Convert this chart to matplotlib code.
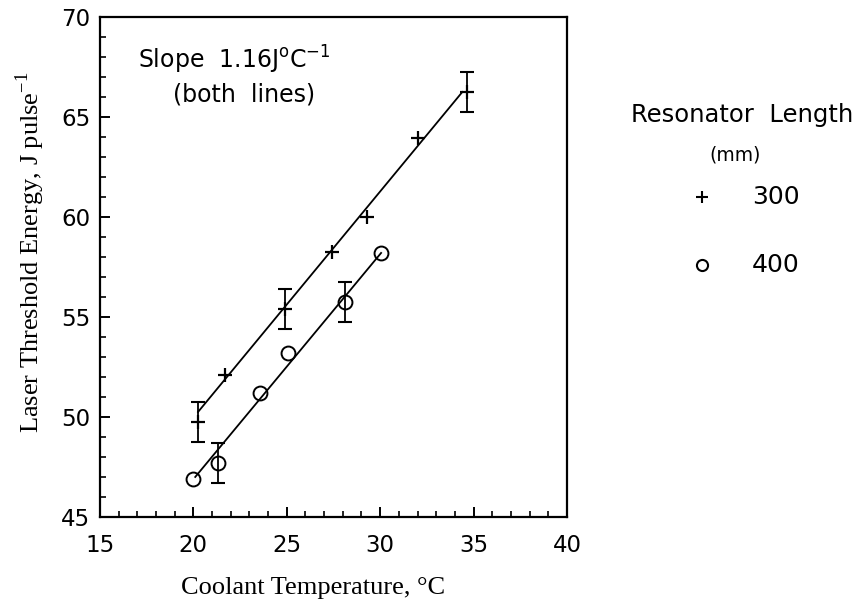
import numpy as np
import matplotlib.pyplot as plt
from matplotlib.lines import Line2D

# resonator length 300 mm (plus markers)
temp_300 = [20.25, 21.7, 24.9, 27.4, 29.3, 32.0, 34.65]
energy_300 = [49.75, 52.1, 55.4, 58.25, 60.0, 63.95, 66.25]
err_300 = [1.0, 0, 1.0, 0, 0, 0, 1.0]
fit_300_x = [20.25, 34.4]
fit_300_y = [50.25, 66.25]

# resonator length 400 mm (circle markers)
temp_400 = [19.98, 21.3, 23.56, 25.06, 28.1, 30.05]
energy_400 = [46.9, 47.7, 51.2, 53.2, 55.75, 58.2]
err_400 = [0, 1.0, 0, 0, 1.0, 0]
fit_400_x = [20.1, 30.05]
fit_400_y = [47.0, 58.2]

tick_font = 'DejaVu Sans'
label_font = 'Liberation Serif'

fig = plt.figure(figsize=(8.64, 6.05), dpi=100)
ax = fig.add_axes([0.1157, 0.1455, 0.5405, 0.8265])

ax.plot(fit_300_x, fit_300_y, color='black', lw=1.3)
ax.plot(fit_400_x, fit_400_y, color='black', lw=1.3)
ax.plot(temp_300, energy_300, linestyle='none', marker='+', ms=10, mew=1.6, color='black')
ax.plot(temp_400, energy_400, linestyle='none', marker='o', ms=10, mew=1.4,
        markerfacecolor='none', markeredgecolor='black')

# error bars only where given
for tx, ey, er in [(temp_300, energy_300, err_300), (temp_400, energy_400, err_400)]:
    tx, ey, er = np.array(tx), np.array(ey), np.array(er)
    m = er > 0
    ax.errorbar(tx[m], ey[m], yerr=er[m], fmt='none', ecolor='black',
                elinewidth=1.3, capsize=5, capthick=1.5)

ax.set_xlim(15, 40)
ax.set_ylim(45, 70)
ax.set_xticks(np.arange(15, 41, 5))
ax.set_yticks(np.arange(45, 71, 5))
ax.set_xticks(np.arange(15, 41, 1), minor=True)
ax.set_yticks(np.arange(45, 71, 1), minor=True)
ax.tick_params(which='major', direction='in', length=7, width=1.4,
               top=False, right=False, labelsize=16.5)
ax.tick_params(axis='x', which='major', pad=12)
ax.tick_params(axis='y', which='major', pad=7)
ax.tick_params(which='minor', direction='in', length=4, width=1.2,
               top=False, right=False)
for lab in ax.get_xticklabels() + ax.get_yticklabels():
    lab.set_family(tick_font)
for s in ax.spines.values():
    s.set_linewidth(1.6)

ax.set_xlabel('Coolant Temperature, °C', family=label_font, fontsize=19, labelpad=15)
ax.set_ylabel('Laser Threshold Energy, J pulse$^{\\mathregular{-1}}$', family=label_font,
              fontsize=19, labelpad=10)
ax.xaxis.label.set_x(0.456)
ax.yaxis.label.set_y(0.53)

ax.text(0.081, 0.914, 'Slope  1.16J$^{\\mathregular{o}}$C$^{\\mathregular{-1}}$',
        transform=ax.transAxes, ha='left', va='center', fontsize=17, family=tick_font)
ax.text(0.156, 0.844, '(both  lines)', transform=ax.transAxes, ha='left', va='center',
        fontsize=17, family=tick_font)

# legend drawn beside the axes
fig.text(0.859, 0.81, 'Resonator  Length', ha='center', va='center', fontsize=17.5, family=tick_font)
fig.text(0.851, 0.744, '(mm)', ha='center', va='center', fontsize=13.5, family=tick_font)
fig.add_artist(Line2D([0.8125], [0.674], transform=fig.transFigure, marker='+', ms=8.5,
                      mew=1.5, color='black', linestyle='none'))
fig.add_artist(Line2D([0.8125], [0.562], transform=fig.transFigure, marker='o', ms=8,
                      mew=1.5, markerfacecolor='none', markeredgecolor='black', linestyle='none'))
fig.text(0.898, 0.674, '300', ha='center', va='center', fontsize=18, family=tick_font)
fig.text(0.898, 0.562, '400', ha='center', va='center', fontsize=18, family=tick_font)

fig.savefig('out.png', dpi=100)
